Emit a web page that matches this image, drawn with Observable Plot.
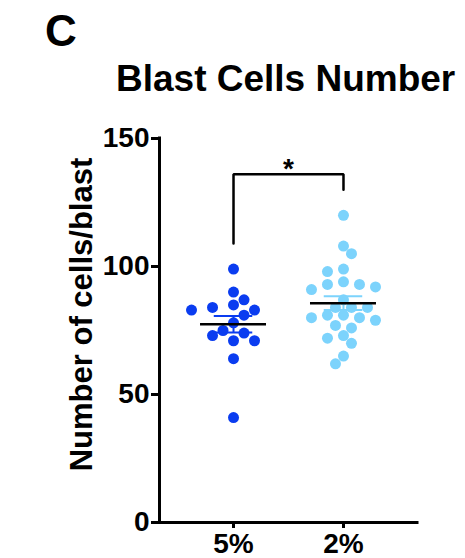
<!DOCTYPE html>
<html><head><meta charset="utf-8">
<script src="https://cdn.jsdelivr.net/npm/d3@7"></script>
<script src="https://cdn.jsdelivr.net/npm/@observablehq/plot@0.6"></script>
<style>
body{margin:0;background:#fff;font-family:"Liberation Sans",Arial,sans-serif;}
#wrap{position:relative;width:465px;height:558px;overflow:hidden;}
.lbl{position:absolute;font-weight:bold;line-height:1;white-space:nowrap;color:#000;}
#panel{left:45px;top:9px;font-size:44px;}
#title{left:116px;top:60px;font-size:37px;}
#chart{position:absolute;left:0;top:0;}
</style></head><body>
<div id="wrap">
<div id="chart"></div>
<div class="lbl" id="panel">C</div>
<div class="lbl" id="title">Blast Cells Number</div>
</div>
<script>
// ---- data ----
const groups = ["5%", "2%"];
const values5 = [99, 90, 84, 85, 87, 81, 83, 83, 78, 75, 73, 74, 71, 71, 64, 41];
const values2 = [120, 108, 105, 99, 98, 93, 94, 93, 91, 92, 87, 84, 84, 84, 81, 81, 79, 80, 80, 77, 76, 72, 73, 70, 65, 62];
const yTicks = [0, 50, 100, 150];
const colors = ["#0a3cf0", "#7cd3fc"];
const yLabel = "Number of cells/blast";
const sigLabel = "*";

// ---- layout ----
const W = 465, H = 558, mL = 159, mR = 48, mT = 138, mB = 36;
const xDomain = [-0.673, 1.673], yDomain = [0, 150];
const pxX = (W - mL - mR) / (xDomain[1] - xDomain[0]);
const pxY = (H - mT - mB) / (yDomain[1] - yDomain[0]);
const R = 5.5;

function swarm(vals, step) {
  const placed = [];
  const off = new Array(vals.length);
  const order = d3.range(vals.length).sort((a, b) => vals[b] - vals[a]);
  let flip = 1;
  for (const i of order) {
    const y = vals[i] * pxY;
    for (let k = 0; k < 50; k++) {
      const cands = k === 0 ? [0] : [flip * k * step, -flip * k * step];
      let done = false;
      for (const c of cands) {
        if (placed.every(p => Math.hypot(p[0] - c, p[1] - y) >= 2 * R)) {
          off[i] = c; placed.push([c, y]); done = true;
          if (c !== 0) flip = -flip;
          break;
        }
      }
      if (done) break;
    }
  }
  return off.map(o => o / pxX);
}

const series = [values5, values2];
const steps = [10.5, 8];
const dots = [];
series.forEach((vals, gi) => {
  const off = swarm(vals, steps[gi]);
  vals.forEach((v, j) => dots.push({g: gi, x: gi + off[j], v}));
});

const stats = series.map((vals, gi) => {
  const m = d3.mean(vals), s = d3.deviation(vals) / Math.sqrt(vals.length);
  return {g: gi, mean: m, lo: m - s, hi: m + s};
});

const sigTop = d3.max(series.flat()) + 16;
const bracket = [
  {x: 0, y: d3.max(values5) + 10},
  {x: 0, y: sigTop},
  {x: 1, y: sigTop},
  {x: 1, y: d3.max(values2) + 10}
];

const font = {fontSize: 28, fontWeight: "bold"};
const chart = Plot.plot({
  width: W, height: H,
  marginLeft: mL, marginRight: mR, marginTop: mT, marginBottom: mB,
  style: {fontFamily: "'Liberation Sans', Arial, sans-serif", color: "#000", background: "transparent"},
  x: {domain: xDomain, axis: null},
  y: {domain: yDomain, axis: null},
  marks: [
    Plot.axisY(yTicks, {tickSize: 8, tickPadding: 2, strokeWidth: 3, label: null, ...font}),
    Plot.axisX([0, 1], {tickFormat: i => groups[i], tickSize: 6, tickPadding: 5, strokeWidth: 3, label: null, ...font}),
    Plot.dot(dots, {x: "x", y: "v", r: R, fill: d => colors[d.g], stroke: null}),
    Plot.ruleX(stats, {x: "g", y1: "lo", y2: "hi", stroke: d => colors[d.g], strokeWidth: 2}),
    Plot.ruleY(stats, {y: "hi", x1: d => d.g - 0.175, x2: d => d.g + 0.175, stroke: d => colors[d.g], strokeWidth: 2}),
    Plot.ruleY(stats, {y: "lo", x1: d => d.g - 0.175, x2: d => d.g + 0.175, stroke: d => colors[d.g], strokeWidth: 2}),
    Plot.ruleY(stats, {y: "mean", x1: d => d.g - 0.3, x2: d => d.g + 0.3, stroke: "#000", strokeWidth: 2.5}),
    Plot.ruleX([xDomain[0]], {y1: yDomain[0], y2: yDomain[1], stroke: "#000", strokeWidth: 3, strokeLinecap: "square"}),
    Plot.ruleY([yDomain[0]], {x1: xDomain[0], x2: xDomain[1], stroke: "#000", strokeWidth: 3, strokeLinecap: "square"}),
    Plot.line(bracket, {x: "x", y: "y", stroke: "#000", strokeWidth: 2.5, strokeLinejoin: "miter"}),
    Plot.text([sigLabel], {x: 0.5, y: sigTop, dy: -5, fontSize: 28, fontWeight: "bold", fill: "#000"}),
    Plot.text([yLabel], {frameAnchor: "left", textAnchor: "middle", dx: -77, dy: -16, rotate: -90, fontSize: 31, fontWeight: "bold", fill: "#000"})
  ]
});
document.getElementById("chart").appendChild(chart);
</script>
</body></html>
